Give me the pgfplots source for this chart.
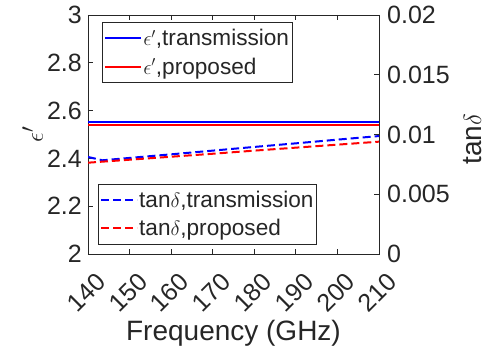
\documentclass[border=0pt]{standalone}
\usepackage{pgfplots}
\pgfplotsset{compat=1.18}
\usepackage{fontspec}
\setmainfont{Liberation Sans}
\definecolor{axgray}{HTML}{262626}
\definecolor{mblue}{RGB}{0,0,255}
\definecolor{mred}{RGB}{255,0,0}
\pgfplotsset{
  common/.style={
    width=291pt, height=239pt, scale only axis,
    xmin=140, xmax=210,
    axis line style={axgray, line width=0.8pt},
    major tick style={axgray, line width=0.8pt},
    major tick length=5pt,
    tick align=inside,
    /pgf/number format/assume math mode=true,
    tick label style={font=\fontsize{25}{25}\selectfont, text=axgray},
    label style={font=\fontsize{28}{28}\selectfont, text=axgray},
    legend style={draw=axgray, line width=0.6pt, fill=white, text=axgray,
      font=\fontsize{22.6}{25}\selectfont, inner xsep=2pt, inner ysep=2pt,
      nodes={inner xsep=1pt, inner ysep=5.2pt}, row sep=0pt},
    legend cell align=left,
    legend image code/.code={\draw[#1] (0pt,0pt) -- (36pt,0pt);},
  }
}
\begin{document}
\begin{tikzpicture}
\begin{axis}[common,
  ymin=2, ymax=3,
  xtick={140,150,...,210},
  xticklabels={140,150,160,170,180,190,200,210},
  xtick pos=both,
  ytick={2,2.2,2.4,2.6,2.8,3},
  yticklabels={2,2.2,2.4,2.6,2.8,3},
  ytick pos=left,
  xticklabel style={xshift=7pt, yshift=-17pt, rotate=45, anchor=north east, inner sep=0pt},
  yticklabel style={inner sep=0pt, xshift=-6pt},
  xlabel={Frequency (GHz)},
  xlabel style={at={(axis description cs:0.5,-0.33)}, anchor=center},
  ylabel={$\epsilon'$},
  ylabel style={at={(axis description cs:-0.19,0.5)}, anchor=center},
  legend style={at={(axis description cs:0.048,0.971)}, anchor=north west},
]
\addplot[mblue, line width=2pt] coordinates {(140,2.553) (210,2.553)};
\addlegendentry{$\epsilon'$,transmission}
\addplot[mred, line width=2pt] coordinates {(140,2.539) (210,2.539)};
\addlegendentry{$\epsilon'$,proposed}
\end{axis}
\begin{axis}[common,
  ymin=0, ymax=0.02,
  axis x line=none,
  axis y line*=right,
  ytick={0,0.005,0.01,0.015,0.02},
  yticklabels={0,0.005,0.01,0.015,0.02},
  scaled y ticks=false,
  yticklabel style={inner sep=0pt, xshift=8pt, anchor=west},
  ylabel={tan$\delta$},
  ylabel style={at={(axis description cs:1.32,0.48)}, anchor=center},
  legend style={at={(axis description cs:0.034,0.038)}, anchor=south west},
]
\addplot[mblue, line width=2pt, dash pattern=on 8pt off 4pt] coordinates {
 (140,0.00812) (143.5,0.00784) (150,0.00804) (160,0.00834) (170,0.00865)
 (180,0.00896) (190,0.00926) (200,0.00957) (210,0.00987)};
\addlegendentry{tan$\delta$,transmission}
\addplot[mred, line width=2pt, dash pattern=on 8pt off 4pt] coordinates {
 (140,0.00764) (150,0.00789) (160,0.00814) (170,0.00839) (180,0.00865)
 (190,0.00890) (200,0.00915) (210,0.00940)};
\addlegendentry{tan$\delta$,proposed}
\end{axis}
\pgfresetboundingbox
\path[use as bounding box] (-88pt,-98pt) rectangle (398pt,254pt);
\end{tikzpicture}
\end{document}
